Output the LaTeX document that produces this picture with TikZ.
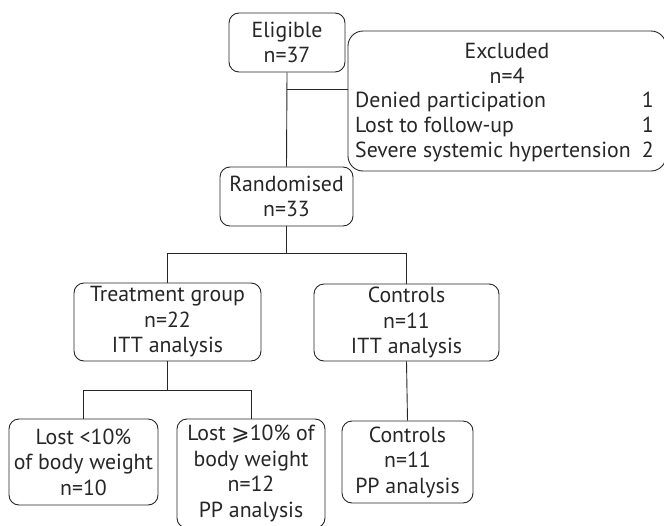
\documentclass[tikz,border=0pt]{standalone}
\usepackage{fontspec}
\setmainfont{PT Sans}
\newfontfamily\symfont{DejaVu Sans}
\begin{document}
\begin{tikzpicture}[x=1pt,y=-1pt,
  every node/.style={text=black!85, font=\fontsize{21.8}{25.5}\selectfont},
  box/.style={draw=black!85, line width=0.9pt, rounded corners=10pt,
    align=center, inner sep=0pt},
  link/.style={draw=black!85, line width=0.9pt}]
\useasboundingbox (0,0) rectangle (664,525);

% boxes
\node[box, minimum width=116pt, minimum height=59pt] (elig) at (287,42.5) {Eligible\\n=37};
\node[box, rounded corners=15pt, minimum width=318pt, minimum height=140pt] (excl) at (507,101) {};
\node[box, minimum width=133pt, minimum height=59pt] (rand) at (286.5,196.5) {Randomised\\n=33};
\node[box, minimum width=187pt, minimum height=78pt] (treat) at (167.5,322) {Treatment group\\n=22\\ITT analysis};
\node[box, minimum width=185pt, minimum height=77pt] (ctrl) at (406.5,322.5) {Controls\\n=11\\ITT analysis};
\node[box, minimum width=149pt, minimum height=86pt] (low) at (83.5,462) {Lost <10\%\\of body weight\\n=10};
\node[box, minimum width=148pt, minimum height=109pt] (high) at (251,473.5) {Lost {\symfont ⩾}10\% of\\body weight\\n=12\\PP analysis};
\node[box, minimum width=131pt, minimum height=82pt] (ctrlpp) at (407.5,462) {Controls\\n=11\\PP analysis};

% exclusion details
\node[anchor=base] (exhead) at (507,58) {Excluded};
\node[anchor=base] (exn) at (507,83) {n=4};
\node[anchor=base west, inner sep=0pt] (r1) at (355,107) {Denied participation};
\node[anchor=base west, inner sep=0pt] (r2) at (355,132) {Lost to follow-up};
\node[anchor=base west, inner sep=0pt] (r3) at (355,157) {Severe systemic hypertension};
\node[anchor=base east, inner sep=0pt] (n1) at (654,107) {1};
\node[anchor=base east, inner sep=0pt] (n2) at (654,132) {1};
\node[anchor=base east, inner sep=0pt] (n3) at (654,157) {2};

% junction points
\coordinate (jx) at (287,89);
\coordinate (jr) at (286.5,253);
\coordinate (jt) at (167.5,390);

% connectors
\draw[link] (elig.south) -- (rand.north);
\draw[link] (jx) -- (jx -| excl.west);
\draw[link] (rand.south) -- (jr);
\draw[link] (treat.north) -- (treat.north |- jr) -- (ctrl.north |- jr) -- (ctrl.north);
\draw[link] (treat.south) -- (jt);
\draw[link] (low.north) -- (low.north |- jt) -- (high.north |- jt) -- (high.north);
\draw[link] (ctrl.south) -- (ctrlpp.north);
\end{tikzpicture}
\end{document}
